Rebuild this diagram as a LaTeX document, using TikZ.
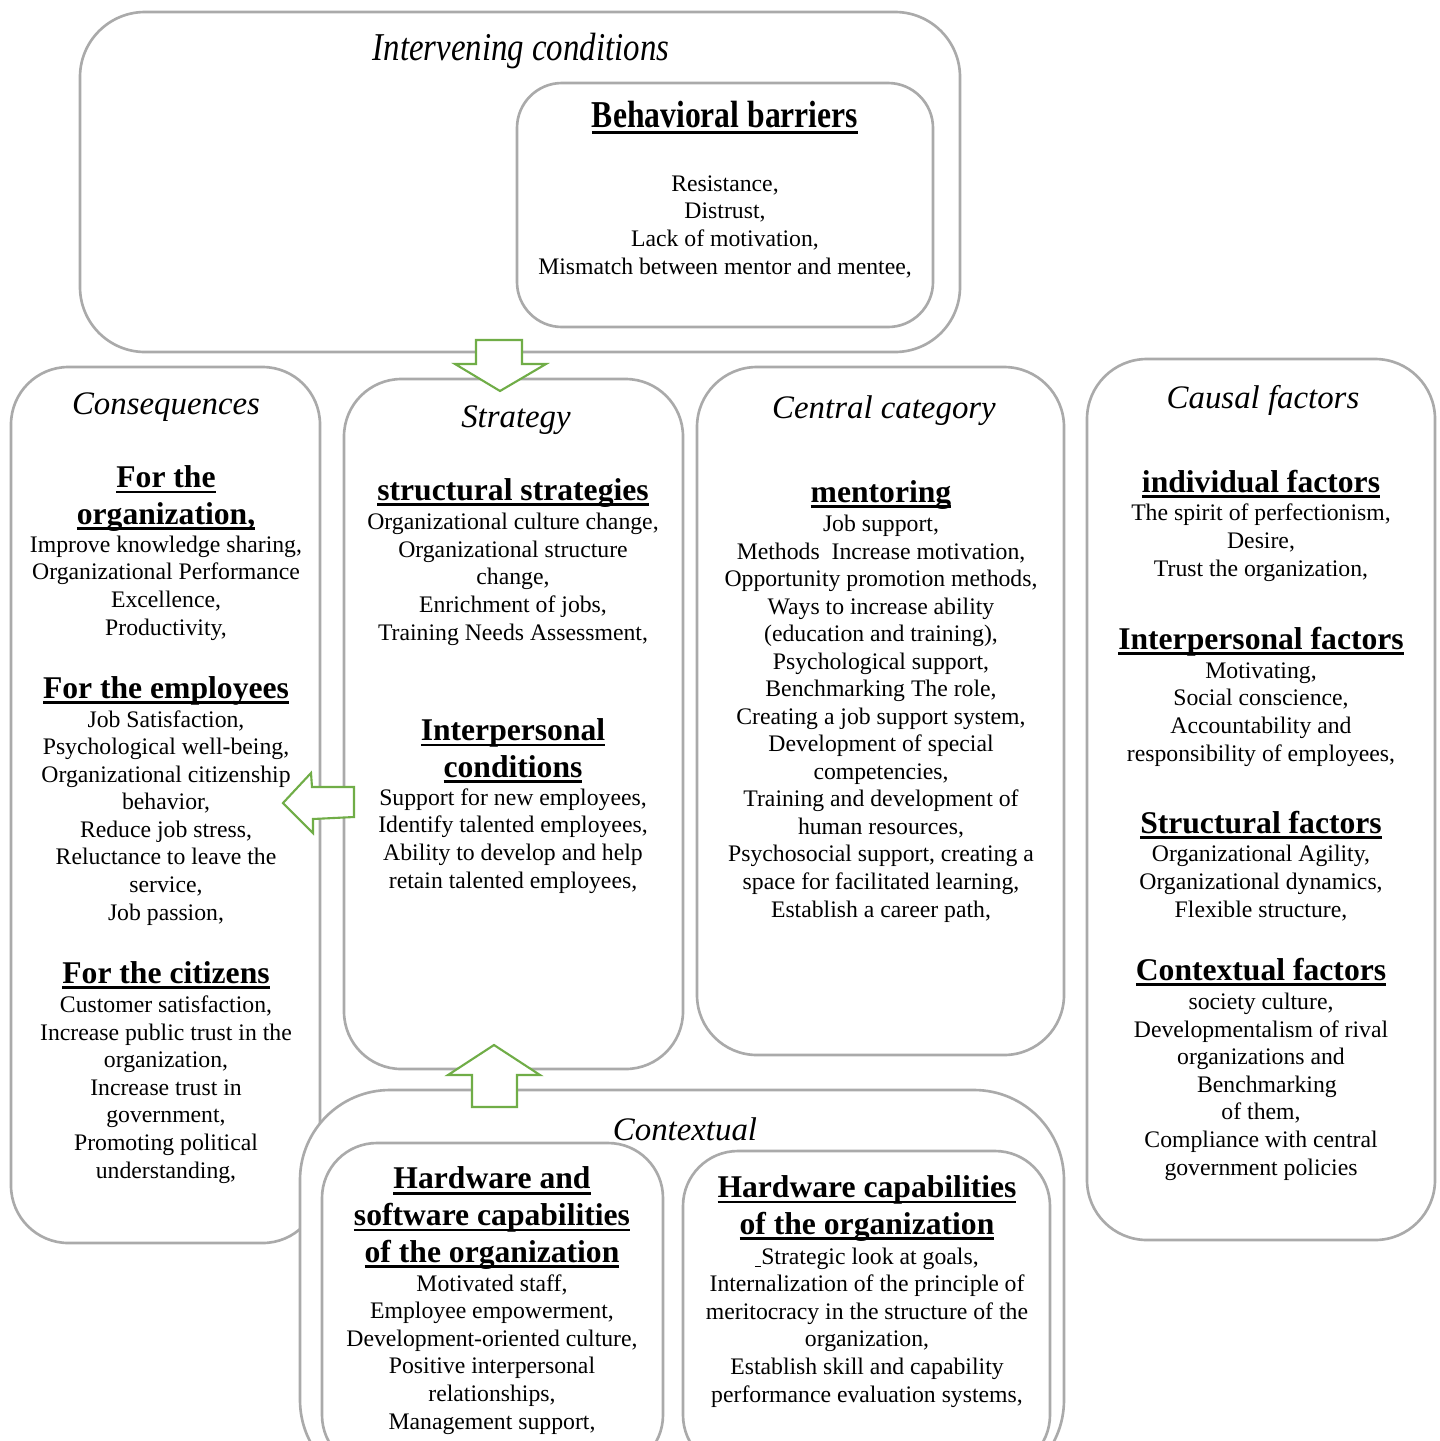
\documentclass[tikz,border=0pt]{standalone}
\usepackage{fontspec}
\setmainfont{Liberation Serif}
\usepackage{graphicx}
\definecolor{boxgray}{RGB}{170,170,170}
\definecolor{arrowgreen}{RGB}{112,173,71}
\newcommand\ulhead[1]{\setbox0\hbox{#1}\rlap{\rule[-3.4pt]{\wd0}{1.5pt}}\box0}

\begin{document}
\begin{tikzpicture}[x=0.02cm,y=-0.02cm,
    box/.style={draw=boxgray,line width=1.5pt,fill=white},
    blockarrow/.style={draw=arrowgreen,line width=1.2pt,fill=white,line join=miter},
    ttl/.style={anchor=base,inner sep=0,font=\fontsize{18.7}{21}\selectfont\itshape},
    hd/.style={anchor=base,inner sep=0,align=center,font=\fontsize{18}{20.8}\selectfont\bfseries},
    txt/.style={anchor=base,inner sep=0,align=center,font=\fontsize{13.5}{15.67}\selectfont}]
  \useasboundingbox (0,0) rectangle (1440,1441);
  % boxes
  \draw[box,rounded corners=1.3cm] (80,12) rectangle (960,352); % intervening
  \draw[box,rounded corners=0.9cm] (517,83) rectangle (933,327);
  \draw[box,rounded corners=1.15cm] (11,367) rectangle (320,1243); % consequences
  \draw[box,rounded corners=1.15cm] (344,379) rectangle (683,1069); % strategy
  \draw[box,rounded corners=1.2cm] (697,367) rectangle (1064,1055); % central
  \draw[box,rounded corners=1.2cm] (1087,359) rectangle (1435,1240); % causal
  \draw[box,rounded corners=1.8cm] (300,1090) rectangle (1064,1490); % contextual
  \draw[box,rounded corners=1.1cm] (322,1143) rectangle (663,1470);
  \draw[box,rounded corners=1.1cm] (683,1151) rectangle (1050,1470);
  % arrows
  \draw[blockarrow] (476,340) -- (522,340) -- (522,364) -- (546,364) -- (500,391)
    -- (455,364) -- (476,364) -- cycle;
  \draw[blockarrow] (354,787) -- (312,787) -- (311,773) -- (283,803) -- (313,833)
    -- (313,819) -- (354,817) -- cycle;
  \draw[blockarrow] (472,1107) -- (517,1107) -- (517,1075) -- (540,1075) -- (494,1045)
    -- (448,1075) -- (472,1075) -- cycle;

  % texts: the base of a node is the base of its last line
  % intervening conditions
  \node[ttl] (intTitle) at (521,60) {\scalebox{1}[1.2]{Intervening conditions}};
  \node[hd] (barHead) at (725,127) {\scalebox{1}[1.2]{\ulhead{Behavioral barriers}}};
  \node[txt] (barText) at (725,274) {Resistance,\\Distrust,\\Lack of motivation,\\Mismatch between mentor and mentee,};

  % consequences
  \node[ttl] (conTitle) at (166,414) {Consequences};
  \node[hd] (orgHead) at (166,524) {\ulhead{For the}\\\ulhead{organization,}};
  \node[txt] (orgText) at (166,635) {Improve knowledge sharing,\\Organizational Performance\\Excellence,\\Productivity,};
  \node[hd] (empHead) at (166,698) {\ulhead{For the employees}};
  \node[txt] (empText) at (166,920) {Job Satisfaction,\\Psychological well-being,\\Organizational citizenship\\behavior,\\Reduce job stress,\\Reluctance to leave the\\service,\\Job passion,};
  \node[hd] (citHead) at (166,983) {\ulhead{For the citizens}};
  \node[txt] (citText) at (166,1178) {Customer satisfaction,\\Increase public trust in the\\organization,\\Increase trust in\\government,\\Promoting political\\understanding,};

  % strategy
  \node[ttl] (strTitle) at (516,427) {Strategy};
  \node[hd] (sstHead) at (513,500) {\ulhead{structural strategies}};
  \node[txt] (sstText) at (513,640) {Organizational culture change,\\Organizational structure\\change,\\Enrichment of jobs,\\Training Needs Assessment,};
  \node[hd] (ipcHead) at (513,777) {\ulhead{Interpersonal}\\\ulhead{conditions}};
  \node[txt] (ipcText) at (513,888) {Support for new employees,\\Identify talented employees,\\Ability to develop and help\\retain talented employees,};

  % central category
  \node[ttl] (cenTitle) at (884,418) {Central category};
  \node[hd] (menHead) at (881,502) {\ulhead{mentoring}};
  \node[txt] (menText) at (881,917) {Job support,\\Methods\ \ Increase motivation,\\Opportunity promotion methods,\\Ways to increase ability\\(education and training),\\Psychological support,\\Benchmarking The role,\\Creating a job support system,\\Development of special\\competencies,\\Training and development of\\human resources,\\Psychosocial support, creating a\\space for facilitated learning,\\Establish a career path,};

  % causal factors
  \node[ttl] (cauTitle) at (1263,408) {Causal factors};
  \node[hd] (indHead) at (1261,492) {\ulhead{individual factors}};
  \node[txt] (indText) at (1261,576) {The spirit of perfectionism,\\Desire,\\Trust the organization,};
  \node[hd] (ipfHead) at (1261,649) {\ulhead{Interpersonal factors}};
  \node[txt] (ipfText) at (1261,761) {Motivating,\\Social conscience,\\Accountability and\\responsibility of employees,};
  \node[hd] (stfHead) at (1261,833) {\ulhead{Structural factors}};
  \node[txt] (stfText) at (1261,917) {Organizational Agility,\\Organizational dynamics,\\Flexible structure,};
  \node[hd] (ctfHead) at (1261,980) {\ulhead{Contextual factors}};
  \node[txt] (ctfText) at (1261,1175) {society culture,\\Developmentalism of rival\\organizations and\\\ \ Benchmarking\\of them,\\Compliance with central\\government policies};

  % contextual
  \node[ttl] (ctxTitle) at (685,1140) {Contextual};
  \node[hd] (hswHead) at (492,1262) {\ulhead{Hardware and}\\\ulhead{software capabilities}\\\ulhead{of the organization}};
  \node[txt] (hswText) at (492,1429) {Motivated staff,\\Employee empowerment,\\Development-oriented culture,\\Positive interpersonal\\relationships,\\Management support,};
  \node[hd] (hwcHead) at (867,1234) {\ulhead{Hardware capabilities}\\\ulhead{of the organization}};
  \node[txt] (hwcText) at (867,1402) {\underline{\ }Strategic look at goals,\\Internalization of the principle of\\meritocracy in the structure of the\\organization,\\Establish skill and capability\\performance evaluation systems,};
\end{tikzpicture}
\end{document}
